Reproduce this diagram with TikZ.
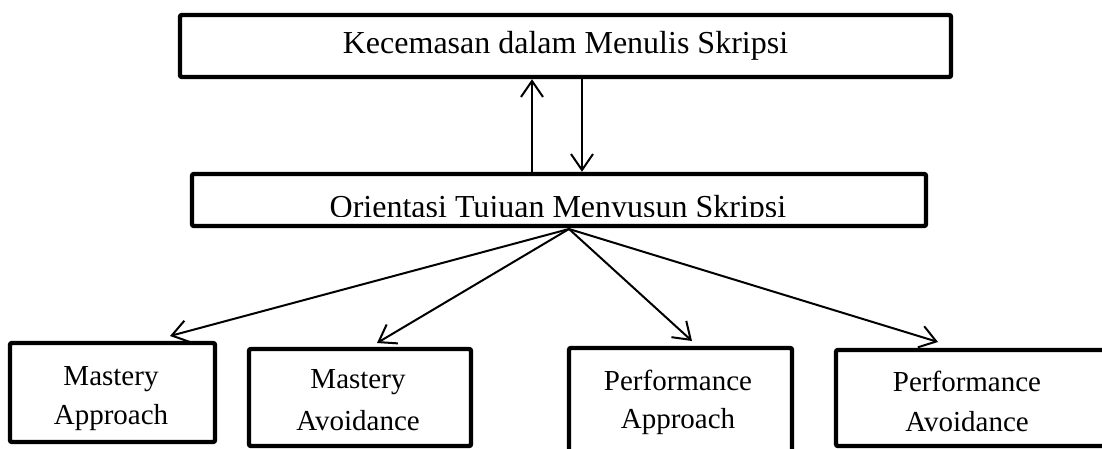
\documentclass[tikz,border=0pt]{standalone}
\usepackage{fontspec}
\setmainfont{Liberation Serif}
\usetikzlibrary{arrows.meta,calc}
\begin{document}
\begin{tikzpicture}[x=0.5pt,y=-0.5pt,
  boxst/.style={draw=black,line width=2.2pt,rectangle,inner sep=0pt,rounded corners=1pt},
  arr/.style={draw=black,line width=1pt,-{Straight Barb[length=8pt,width=11pt,line width=1pt]}},
  toptxt/.style={font=\fontsize{16pt}{19pt}\selectfont,inner sep=0pt},
  lbl/.style={font=\fontsize{14.5pt}{19pt}\selectfont,inner sep=0pt,align=center,anchor=base}]
\useasboundingbox (0,0) rectangle (1102,449);
\clip (0,0) rectangle (1102,449);
% top box
\node[boxst,minimum width=385.5pt,minimum height=31pt,toptxt] (top) at (565.5,46) {Kecemasan dalam Menulis Skripsi};
% middle box
\node[boxst,minimum width=367pt,minimum height=26pt] (mid) at (559,200) {};
\begin{scope}
\clip (192,174) rectangle (926,216);
\node[toptxt,anchor=base] (midtxt) at (558,217) {Orientasi Tujuan Menyusun Skripsi};
\end{scope}
% bottom boxes
\node[boxst,minimum width=102.5pt,minimum height=49.5pt] (b1) at (112.5,392.5) {};
\node[boxst,minimum width=111pt,minimum height=48.5pt] (b2) at (360,397.5) {};
\node[boxst,minimum width=111.5pt,minimum height=56pt] (b3) at (680.5,404) {};
\node[boxst,minimum width=135pt,minimum height=48pt] (b4) at (971,398) {};
\node[lbl,font=\fontsize{14.5pt}{19.5pt}\selectfont] (b1t) at (111,424) {Mastery\\Approach};
\node[lbl,font=\fontsize{14.5pt}{21pt}\selectfont] (b2t) at (358,430) {Mastery\\Avoidance};
\node[lbl,font=\fontsize{14.5pt}{19pt}\selectfont] (b3t) at (678,428) {Performance\\Approach};
\node[lbl,font=\fontsize{14.5pt}{20pt}\selectfont] (b4t) at (967,431) {Performance\\Avoidance};
% vertical arrows
\coordinate (ux) at (532,0);
\coordinate (dx) at (582,0);
\draw[arr] (mid.north -| ux) -- (top.south -| ux);
\draw[arr] (top.south -| dx) -- (mid.north -| dx);
% fan arrows
\coordinate (src) at (569,229);
\coordinate (t1) at (170,336);
\coordinate (t2) at (377,343);
\coordinate (t3) at (692,341);
\coordinate (t4) at (938,342);
\draw[arr] (src) -- (t1);
\draw[arr] (src) -- (t2);
\draw[arr] (src) -- (t3);
\draw[arr] (src) -- (t4);
\end{tikzpicture}
\end{document}
